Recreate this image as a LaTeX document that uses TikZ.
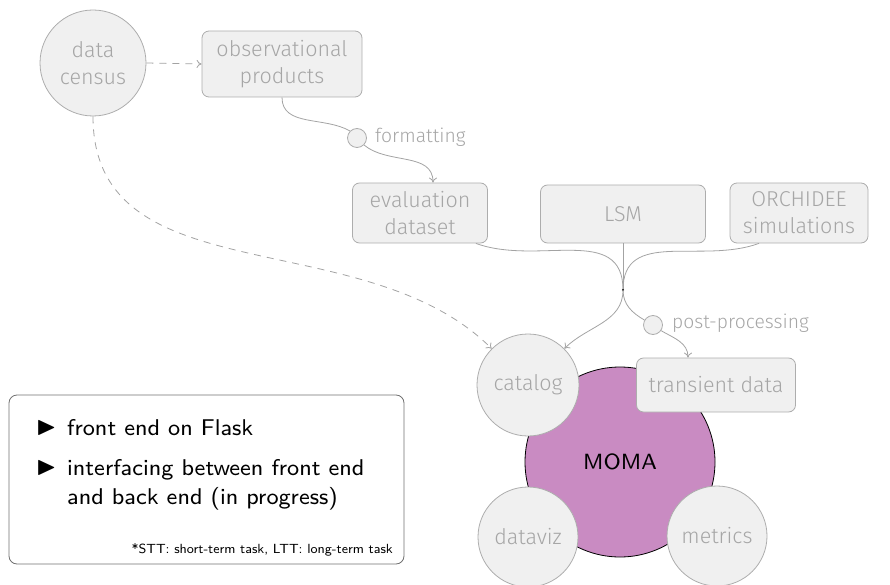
\documentclass[tikz,border=0pt]{standalone}
\usepackage{fontspec}
\usepackage{amssymb}
\newfontfamily\nodefont{Fira Sans}[UprightFont={* Light}]
\newfontfamily\boxfont{lmsans8-regular}[Extension=.otf]
\usetikzlibrary{arrows.meta}
\definecolor{nodefill}{HTML}{F0F0F0}
\definecolor{nodeline}{HTML}{ADADAD}
\definecolor{nodetext}{HTML}{A6A6A6}
\definecolor{connline}{HTML}{A3A3A3}
\definecolor{momafill}{HTML}{C98BC2}
\definecolor{boxline}{HTML}{707070}
\tikzset{
  base/.style={draw=nodeline, fill=nodefill, text=nodetext, line width=0.8pt, font=\nodefont\fontsize{21.5}{27}\selectfont, align=center, inner sep=0pt},
  circnode/.style={base, circle, minimum size=#1},
  boxnode/.style={base, rounded corners=7pt, minimum width=#1},
  smallcirc/.style={draw=nodeline, fill=nodefill, circle, line width=0.8pt, minimum size=19pt, inner sep=0pt},
  lbl/.style={text=nodetext, font=\nodefont\fontsize{19.3}{22}\selectfont, inner sep=0pt, anchor=west},
  conn/.style={draw=connline, line width=0.8pt},
  arr/.style={conn, -{To[length=5pt,width=8pt]}},
  darr/.style={arr, dashed, dash pattern=on 7pt off 6pt},
  bullettext/.style={font=\boxfont\fontsize{22.8}{29}\selectfont, inner sep=0pt, anchor=base west},
}
\begin{document}
\begin{tikzpicture}[x=1pt, y=-1pt]
\useasboundingbox (0,0) rectangle (890,585);
% nodes
\node[circnode=106pt] (census) at (93,63) {data\\census};
\node[boxnode=160pt, minimum height=66pt] (obs) at (282,64) {observational\\products};
\node[smallcirc] (fmt) at (357,138) {};
\node[lbl] (fmtl) at (375,137) {formatting};
\node[boxnode=135pt, minimum height=60pt] (eval) at (420,213) {evaluation\\dataset};
\node[boxnode=165pt, minimum height=58pt] (lsm) at (623,214) {LSM};
\node[boxnode=138pt, minimum height=60pt] (orch) at (799,213) {ORCHIDEE\\simulations};
\coordinate (J) at (623,290);
\node[smallcirc] (pp) at (653,325) {};
\node[lbl] (ppl) at (672,323) {post-processing};
% MOMA and satellites
\node[circle, draw=black, fill=momafill, line width=0.8pt, minimum size=190pt, inner sep=0pt, font=\boxfont\fontsize{22}{27}\selectfont] (moma) at (620,462) {MOMA};
\node[circnode=102pt] (cat) at (528,385) {catalog};
\node[boxnode=159pt, minimum height=54pt] (trans) at (716,385) {transient data};
\node[circnode=100pt] (viz) at (528,537) {dataviz};
\node[circnode=100pt] (met) at (717,536) {metrics};
% connectors
\draw[darr] (census.east) -- (obs.west);
\draw[conn] (obs.south) to[out=-90, in=150] (fmt.135);
\coordinate (evalin) at ([xshift=13pt]eval.north);
\draw[arr] (fmt.-45) to[out=-40, in=90] (evalin);
\coordinate (evalout) at ([xshift=-12pt]eval.south east);
\coordinate (orchout) at ([xshift=-40pt]orch.south);
\draw[conn] (evalout) to[out=-20, in=90, looseness=1.1] (J);
\draw[conn] (lsm.south) -- (J);
\draw[conn] (orchout) to[out=-160, in=90, looseness=1.1] (J);
\fill (J) circle (1.1pt);
\draw[arr] (J) to[out=-90, in=45] (cat.45);
\draw[conn] (J) to[out=-90, in=150] (pp.150);
\coordinate (transin) at ([xshift=-28pt]trans.north);
\draw[arr] (pp.-35) to[out=-30, in=90] (transin);
\draw[darr] (census.south) to[out=-90, in=135] (cat.135);
% info box
\node[draw=boxline, rounded corners=8pt, line width=0.8pt, minimum width=395pt, minimum height=169pt, inner sep=0pt] (info) at (206.5,479.5) {};
\node[bullettext] (b1) at (36,434) {\scalebox{1.15}{$\blacktriangleright$}};
\node[bullettext] (t1) at (67,435) {front end on Flask};
\node[bullettext] (b2) at (36,474) {\scalebox{1.15}{$\blacktriangleright$}};
\node[bullettext] (t2) at (67,475) {interfacing between front end};
\node[bullettext] (t3) at (67,504) {and back end (in progress)};
\node[font=\boxfont\fontsize{13.25}{15}\selectfont, inner sep=0pt, anchor=base east] (foot) at (393,553) {*STT: short-term task, LTT: long-term task};
\end{tikzpicture}
\end{document}
